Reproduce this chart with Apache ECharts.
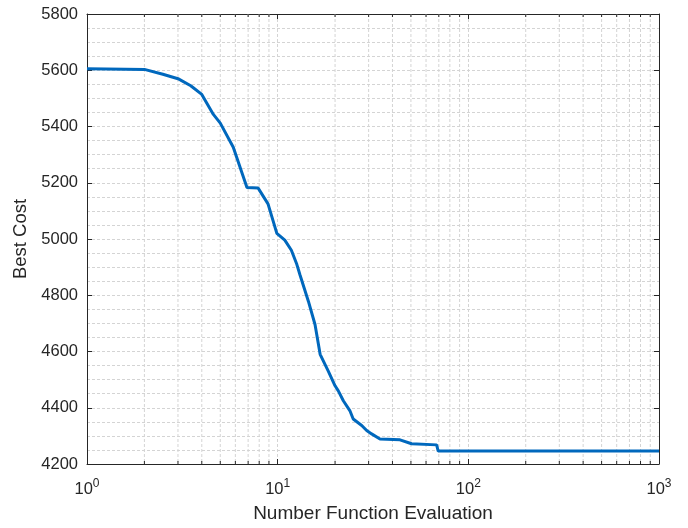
<!DOCTYPE html>
<html>
<head>
<meta charset="utf-8">
<style>
  html, body { margin: 0; padding: 0; background: #fff; }
  #chart { width: 688px; height: 528px; }
</style>
<script src="https://cdn.jsdelivr.net/npm/echarts@6/dist/echarts.min.js"></script>
</head>
<body>
<div id="chart"></div>
<script>
// function evaluations (x, log scale) and best cost
var evals = [1, 2, 2.5, 3, 3.5, 4, 4.6, 5, 5.85, 6.9, 7.9, 8.9, 9.9, 10.9, 11.8, 12.6, 13.1, 14.5, 15.7, 16.7, 18.4, 20, 20.8, 22.1, 23.9, 24.9, 27.6, 29.3, 31.1, 34.4, 43.8, 50.4, 68.2, 69.5, 1000]
var bestCost = [5605, 5603, 5586, 5570, 5545, 5514, 5443, 5412, 5326, 5183, 5181, 5125, 5020, 4996, 4960, 4910, 4872, 4778, 4696, 4590, 4531, 4478, 4460, 4425, 4390, 4360, 4337, 4319, 4307, 4289, 4286, 4272, 4268, 4246, 4246]

// minor (log) grid positions on x
var minorX = [2, 3, 4, 5, 6, 7, 8, 9, 20, 30, 40, 50, 60, 70, 80, 90, 200, 300, 400, 500, 600, 700, 800, 900]

var yMin = 4200
var yMax = 5800
var yStep = 200

var textColor = '#262626'
var gridColor = '#d4d4d4'

var chart = echarts.init(document.getElementById('chart'))

var supLabel = {
  formatter: function (v) {
    return '{b|10}{s|' + Math.round(Math.log10(v)) + '}'
  },
  margin: 14,
  showMinLabel: true,
  showMaxLabel: true,
  rich: {
    b: { fontSize: 16.5, lineHeight: 22, color: textColor, fontFamily: 'Liberation Sans', verticalAlign: 'middle' },
    s: { fontSize: 12, lineHeight: 12, color: textColor, fontFamily: 'Liberation Sans', verticalAlign: 'top' }
  }
}

chart.setOption({
  animation: false,
  backgroundColor: '#fff',
  grid: {
    left: 87,
    right: 29,
    top: 14,
    bottom: 61
  },
  xAxis: [{
    type: 'log',
    logBase: 10,
    min: 1,
    max: 1000,
    position: 'bottom',
    name: 'Number Function Evaluation',
    nameLocation: 'middle',
    nameGap: 40,
    nameTextStyle: { fontSize: 19, color: textColor, fontFamily: 'Liberation Sans' },
    axisLine: { lineStyle: { color: textColor, width: 1 } },
    axisTick: { inside: true, length: 5, lineStyle: { color: textColor } },
    axisLabel: supLabel,
    splitLine: { show: true, lineStyle: { color: gridColor, type: [3, 2] } },
    minorTick: { show: false },
    minorSplitLine: { show: false }
  }, {
    type: 'log',
    logBase: 10,
    min: 1,
    max: 1000,
    position: 'top',
    axisLine: { lineStyle: { color: textColor, width: 1 } },
    axisTick: { inside: true, length: 5, lineStyle: { color: textColor } },
    axisLabel: { show: false },
    splitLine: { show: false }
  }],
  yAxis: [{
    type: 'value',
    min: yMin,
    max: yMax,
    interval: yStep,
    position: 'left',
    name: 'Best Cost',
    nameLocation: 'middle',
    nameGap: 47,
    nameTextStyle: { fontSize: 18.5, color: textColor, fontFamily: 'Liberation Sans' },
    axisLine: { show: true, lineStyle: { color: textColor, width: 1 } },
    axisTick: { show: true, inside: true, length: 5, lineStyle: { color: textColor } },
    axisLabel: {
      fontSize: 16.5,
      color: textColor,
      margin: 9,
      fontFamily: 'Liberation Sans',
      formatter: function (v) { return String(v) }
    },
    splitLine: { show: true, lineStyle: { color: gridColor, type: [3, 2] } },
    minorTick: { show: false, splitNumber: 4 },
    minorSplitLine: { show: true, lineStyle: { color: gridColor, type: [3, 2] } }
  }, {
    type: 'value',
    min: yMin,
    max: yMax,
    interval: yStep,
    position: 'right',
    axisLine: { show: true, lineStyle: { color: textColor, width: 1 } },
    axisTick: { show: true, inside: true, length: 5, lineStyle: { color: textColor } },
    axisLabel: { show: false },
    splitLine: { show: false }
  }],
  series: [{
    // minor vertical grid lines + minor ticks on the log axis
    type: 'custom',
    silent: true,
    z: 1,
    data: minorX.map(function (v) { return [v, yMin] }),
    renderItem: function (params, api) {
      var cs = params.coordSys
      var x = api.coord([api.value(0), yMin])[0]
      var top = cs.y
      var bot = cs.y + cs.height
      return {
        type: 'group',
        children: [{
          type: 'line',
          shape: { x1: x, y1: top, x2: x, y2: bot },
          style: { stroke: gridColor, lineWidth: 1, lineDash: [3, 2] }
        }, {
          type: 'line',
          shape: { x1: x, y1: bot, x2: x, y2: bot - 3 },
          style: { stroke: textColor, lineWidth: 1 }
        }, {
          type: 'line',
          shape: { x1: x, y1: top, x2: x, y2: top + 3 },
          style: { stroke: textColor, lineWidth: 1 }
        }]
      }
    }
  }, {
    name: 'Best Cost',
    type: 'line',
    z: 3,
    showSymbol: false,
    data: evals.map(function (x, i) { return [x, bestCost[i]] }),
    lineStyle: { color: '#0068bd', width: 3 },
    itemStyle: { color: '#0068bd' }
  }]
})
</script>
</body>
</html>
